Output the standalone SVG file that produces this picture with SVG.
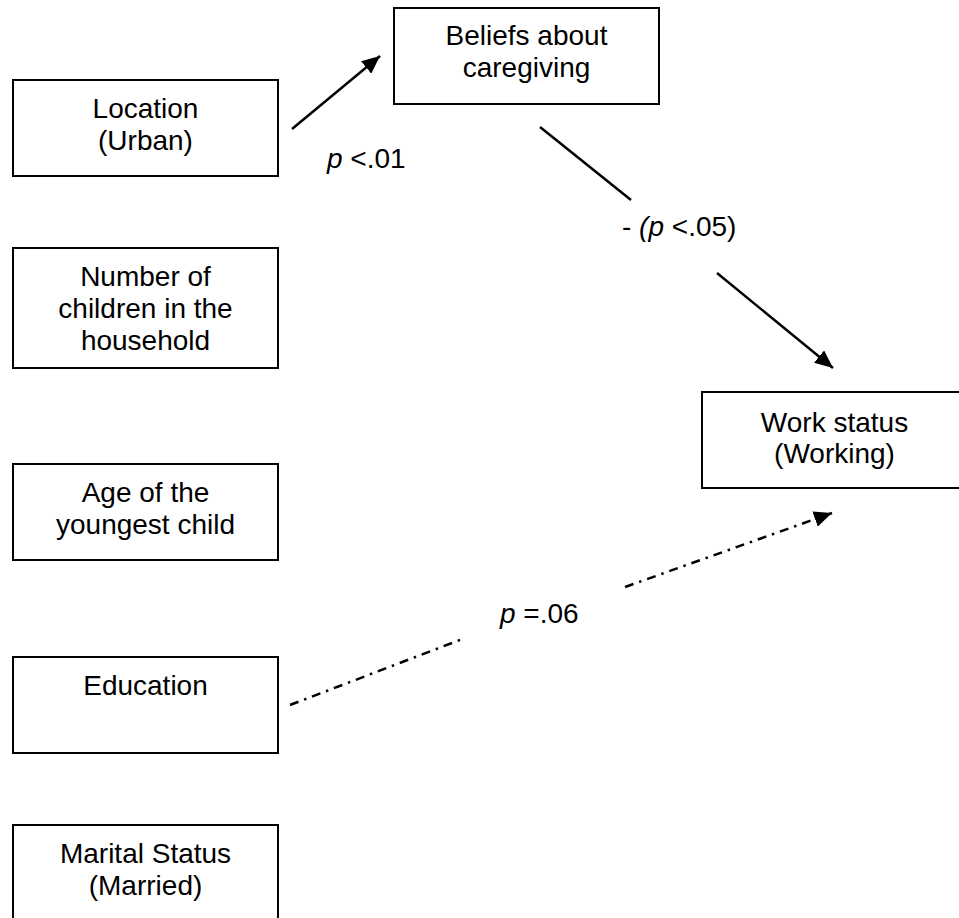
<svg xmlns="http://www.w3.org/2000/svg" width="959" height="918" viewBox="0 0 959 918">
  <style>
    .box { fill: #ffffff; stroke: #000000; stroke-width: 2; }
    .lbl { font-family: "Liberation Sans", Arial, sans-serif; font-size: 28px; fill: #000000; text-anchor: middle; }
    .note { font-family: "Liberation Sans", Arial, sans-serif; font-size: 28px; fill: #000000; }
    .it { font-style: italic; }
    .solid { stroke: #000000; stroke-width: 2.5; fill: none; }
    .dashdot { stroke: #000000; stroke-width: 2.5; fill: none; stroke-dasharray: 9 6 2.5 6; }
  </style>
  <defs>
    <marker id="head" markerUnits="userSpaceOnUse" markerWidth="20" markerHeight="16" refX="18" refY="8" orient="auto">
      <path d="M0,0 L18,8 L0,16 Z" fill="#000000"/>
    </marker>
  </defs>
  <rect width="959" height="918" fill="#ffffff"/>

  <g id="location">
    <rect class="box" x="13" y="80" width="265" height="96"/>
    <text class="lbl" x="145.5" y="118">Location</text>
    <text class="lbl" x="145.5" y="150">(Urban)</text>
  </g>

  <g id="children">
    <rect class="box" x="13" y="248" width="265" height="120"/>
    <text class="lbl" x="145.5" y="286">Number of</text>
    <text class="lbl" x="145.5" y="318">children in the</text>
    <text class="lbl" x="145.5" y="350">household</text>
  </g>

  <g id="age">
    <rect class="box" x="13" y="464" width="265" height="96"/>
    <text class="lbl" x="145.5" y="502">Age of the</text>
    <text class="lbl" x="145.5" y="534">youngest child</text>
  </g>

  <g id="education">
    <rect class="box" x="13" y="657" width="265" height="96"/>
    <text class="lbl" x="145.5" y="695">Education</text>
  </g>

  <g id="marital">
    <rect class="box" x="13" y="825" width="265" height="96"/>
    <text class="lbl" x="145.5" y="863">Marital Status</text>
    <text class="lbl" x="145.5" y="895">(Married)</text>
  </g>

  <g id="beliefs">
    <rect class="box" x="394" y="8" width="265" height="96"/>
    <text class="lbl" x="526.5" y="45">Beliefs about</text>
    <text class="lbl" x="526.5" y="77">caregiving</text>
  </g>

  <g id="work">
    <rect class="box" x="702" y="392" width="265" height="96"/>
    <text class="lbl" x="834.5" y="432">Work status</text>
    <text class="lbl" x="834.5" y="463">(Working)</text>
  </g>

  <g id="connectors">
    <!-- location -> beliefs -->
    <line class="solid" x1="292" y1="129" x2="380" y2="56" marker-end="url(#head)"/>
    <text class="note" x="327" y="168"><tspan class="it">p</tspan> &lt;.01</text>

    <!-- beliefs -> work status, broken around its label -->
    <line class="solid" x1="540" y1="127" x2="631" y2="200"/>
    <line class="solid" x1="717" y1="273" x2="833" y2="368" marker-end="url(#head)"/>
    <text class="note" x="622" y="236">- <tspan class="it">(p</tspan> &lt;.05)</text>

    <!-- education -> work status, dash-dot, broken around its label -->
    <line class="dashdot" x1="290" y1="705" x2="465" y2="638"/>
    <line class="dashdot" x1="625" y1="587" x2="832" y2="513" marker-end="url(#head)"/>
    <text class="note" x="500" y="623"><tspan class="it">p</tspan> =.06</text>
  </g>
</svg>
